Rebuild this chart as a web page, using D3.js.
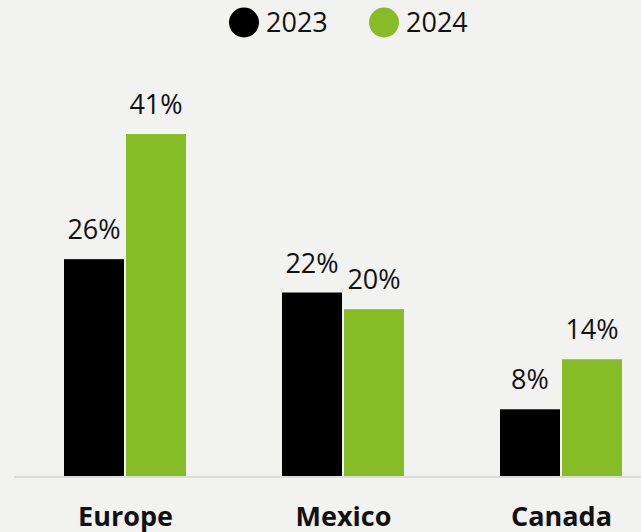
<!DOCTYPE html>
<html><head><meta charset="utf-8">
<script src="https://cdn.jsdelivr.net/npm/d3@7"></script>
<style>
html,body{margin:0;padding:0;background:#f2f2f0;}
svg{display:block;font-family:"Open Sans",sans-serif;}
</style></head>
<body>
<script>
const categories = ["Europe", "Mexico", "Canada"];
const seriesNames = ["2023", "2024"];
const values2023 = [26, 22, 8];
const values2024 = [41, 20, 14];
const colors = ["#000000", "#86bc25"];

const W = 641, H = 532;
const svg = d3.select("body").append("svg").attr("width", W).attr("height", H);
svg.append("rect").attr("width", W).attr("height", H).attr("fill", "#f2f2f0");

const baseY = 476;
const x = d3.scaleBand().domain(categories).range([16, 670]).paddingInner(0.45).paddingOuter(0.0);
const x0 = d3.scalePoint().domain(categories).range([125, 561]);
const y = d3.scaleLinear().domain([0, 50]).range([baseY, 59]);
const barW = 60, gap = 2;
const sub = d3.scaleOrdinal().domain(seriesNames).range([-(barW + gap/2), gap/2]);

const series = [values2023, values2024];
const data = [];
categories.forEach((c, i) => seriesNames.forEach((s, j) => data.push({c, s, v: series[j][i], col: colors[j]})));

svg.append("line").attr("x1", 14).attr("x2", W).attr("y1", baseY + 1).attr("y2", baseY + 1)
  .attr("stroke", "#dcdcda").attr("stroke-width", 2);

svg.selectAll("rect.bar").data(data).join("rect").attr("class", "bar")
  .attr("x", d => x0(d.c) + sub(d.s))
  .attr("width", barW)
  .attr("y", d => y(d.v))
  .attr("height", d => baseY - y(d.v))
  .attr("fill", d => d.col);

svg.selectAll("text.val").data(data).join("text").attr("class", "val")
  .attr("x", d => x0(d.c) + sub(d.s) + barW / 2)
  .attr("y", d => y(d.v) - 20)
  .attr("text-anchor", "middle")
  .attr("font-size", 27)
  .attr("fill", "#111")
  .text(d => d.v + "%");

const xAxis = d3.axisBottom(x0).tickSize(0).tickPadding(0);
const gx = svg.append("g").attr("transform", `translate(0,${baseY})`).call(xAxis);
gx.select(".domain").remove();
gx.selectAll("text").attr("font-size", 27).attr("font-weight", "bold").attr("fill", "#111")
  .attr("font-family", "'Open Sans',sans-serif").attr("dy", null).attr("y", 50);

const legend = svg.append("g");
const lx = [244, 384];
seriesNames.forEach((s, j) => {
  legend.append("circle").attr("cx", lx[j]).attr("cy", 22.5).attr("r", 15).attr("fill", colors[j]);
  legend.append("text").attr("x", lx[j] + 22).attr("y", 32).attr("font-size", 27).attr("fill", "#111").text(s);
});
</script>
</body></html>
